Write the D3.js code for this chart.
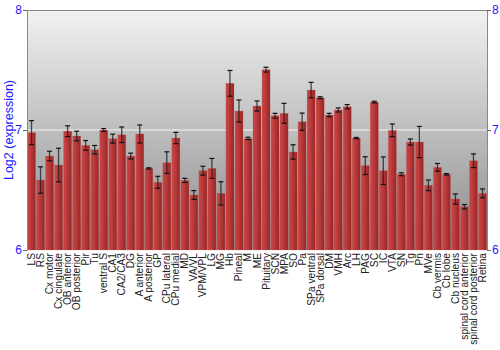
<!DOCTYPE html>
<html><head><meta charset="utf-8">
<script src="https://cdn.jsdelivr.net/npm/d3@7"></script>
<style>body{margin:0;background:#fff}svg{display:block}</style>
</head><body><svg id="c" width="500" height="350"></svg>
<script>
const categories = ["LS","RS","Cx motor","Cx cingulate","OB anterior","OB posterior","Pir","Tu","ventral S","CA1","CA2/CA3","DG","A anterior","A posterior","GP","CPu lateral","CPu medial","MD","VA/VL","VPM/VPL","LG","MG","Hb","Pineal","M","ME","Pituitary","SCN","MPA","SO","Pa","SPa ventral","SPa dorsal","DM","VMH","Arc","LH","PAG","SC","IC","VTA","SN","Tg","Pn","MVe","Cb vermis","Cb lobe","Cb nucleus","spinal cord anterior","spinal cord posterior","Retina"];
const values = [6.978,6.583,6.783,6.708,6.99,6.95,6.872,6.836,7.0,6.928,6.96,6.783,6.967,6.68,6.564,6.728,6.933,6.58,6.458,6.661,6.68,6.472,7.389,7.158,6.93,7.2,7.503,7.119,7.139,6.817,7.069,7.333,7.269,7.125,7.167,7.194,6.933,6.703,7.233,6.661,6.997,6.631,6.9,6.9,6.539,6.689,6.631,6.425,6.361,6.744,6.472];
const errors = [0.1,0.11,0.04,0.14,0.045,0.04,0.04,0.035,0.012,0.037,0.065,0.024,0.075,0.005,0.05,0.09,0.047,0.017,0.037,0.037,0.083,0.097,0.107,0.092,0.01,0.042,0.02,0.02,0.083,0.06,0.072,0.064,0.008,0.014,0.017,0.018,0.005,0.074,0.007,0.115,0.053,0.012,0.025,0.13,0.044,0.032,0.006,0.042,0.018,0.057,0.037];
const yTicks = [6,7,8];
const yTitle = "Log2 (expression)";

const svg = d3.select("#c");
const m = {l:27, r:13, t:10, b:100};
const W = 500, H = 350;
const x = d3.scaleBand().domain(categories).range([m.l, W-m.r]).paddingInner(0.1).paddingOuter(0.05);
const y = d3.scaleLinear().domain([6,8]).range([H-m.b, m.t]);

const defs = svg.append("defs");
const bg = defs.append("linearGradient").attr("id","bg").attr("x1",0).attr("y1",0).attr("x2",0).attr("y2",1);
bg.append("stop").attr("offset","0%").attr("stop-color","#f2f2f2");
bg.append("stop").attr("offset","100%").attr("stop-color","#8a8a8a");
const bar = defs.append("linearGradient").attr("id","bar").attr("x1",0).attr("y1",0).attr("x2",1).attr("y2",0);
bar.append("stop").attr("offset","0%").attr("stop-color","#c44848");
bar.append("stop").attr("offset","35%").attr("stop-color","#c03c3c");
bar.append("stop").attr("offset","100%").attr("stop-color","#962626");

svg.append("rect").attr("x",m.l).attr("y",m.t).attr("width",W-m.r-m.l).attr("height",H-m.b-m.t).attr("fill","url(#bg)");

svg.append("line").attr("x1",m.l).attr("x2",W-m.r).attr("y1",y(7)).attr("y2",y(7)).attr("stroke","#f4f4f4").attr("stroke-width",1.2);

svg.append("g").selectAll("rect").data(categories).join("rect")
  .attr("x",d=>x(d)).attr("width",x.bandwidth())
  .attr("y",(d,i)=>y(values[i])).attr("height",(d,i)=>y(6)-y(values[i]))
  .attr("fill","url(#bar)").attr("stroke","#d06060").attr("stroke-opacity",0.35).attr("stroke-width",0.6);

const eg = svg.append("g");
categories.forEach((d,i)=>{
  const cx = x(d)+x.bandwidth()/2;
  const y1 = y(values[i]+errors[i]), y2 = y(values[i]-errors[i]);
  eg.append("line").attr("x1",cx).attr("x2",cx).attr("y1",y1).attr("y2",y2).attr("stroke","#222").attr("stroke-opacity",0.8).attr("stroke-width",1.3);
  [y1,y2].forEach(yy=>eg.append("line").attr("x1",cx-2.5).attr("x2",cx+2.5).attr("y1",yy).attr("y2",yy).attr("stroke","#111").attr("stroke-width",1.2));
});

// frame
svg.append("line").attr("x1",m.l).attr("x2",W-m.r).attr("y1",m.t+0.5).attr("y2",m.t+0.5).attr("stroke","#888");

const left = svg.append("g").attr("transform",`translate(${m.l},0)`)
  .call(d3.axisLeft(y).tickValues(yTicks).tickFormat(d3.format("d")).tickSize(4).tickPadding(1));
const right = svg.append("g").attr("transform",`translate(${W-m.r},0)`)
  .call(d3.axisRight(y).tickValues(yTicks).tickFormat(d3.format("d")).tickSize(4).tickPadding(1));
[left,right].forEach(g=>{
  g.select(".domain").attr("stroke","#888");
  g.selectAll(".tick line").attr("stroke","#666");
  g.selectAll(".tick text").attr("fill","#1a1aff").attr("font-family","Liberation Sans, Arial, sans-serif").attr("font-size",12);
});

svg.append("g").selectAll("text").data(categories).join("text")
  .attr("transform",d=>`translate(${x(d)+x.bandwidth()/2+3.5},${H-m.b+3}) rotate(-90)`)
  .attr("text-anchor","end")
  .attr("font-family","Liberation Sans, Arial, sans-serif").attr("font-size",10.2).attr("fill","#222")
  .text(d=>d);

svg.append("text").attr("transform",`translate(13,${(m.t+H-m.b)/2}) rotate(-90)`)
  .attr("text-anchor","middle").attr("font-family","Liberation Sans, Arial, sans-serif").attr("font-size",12.5)
  .attr("fill","#1a1aff").text(yTitle);
</script></body></html>
